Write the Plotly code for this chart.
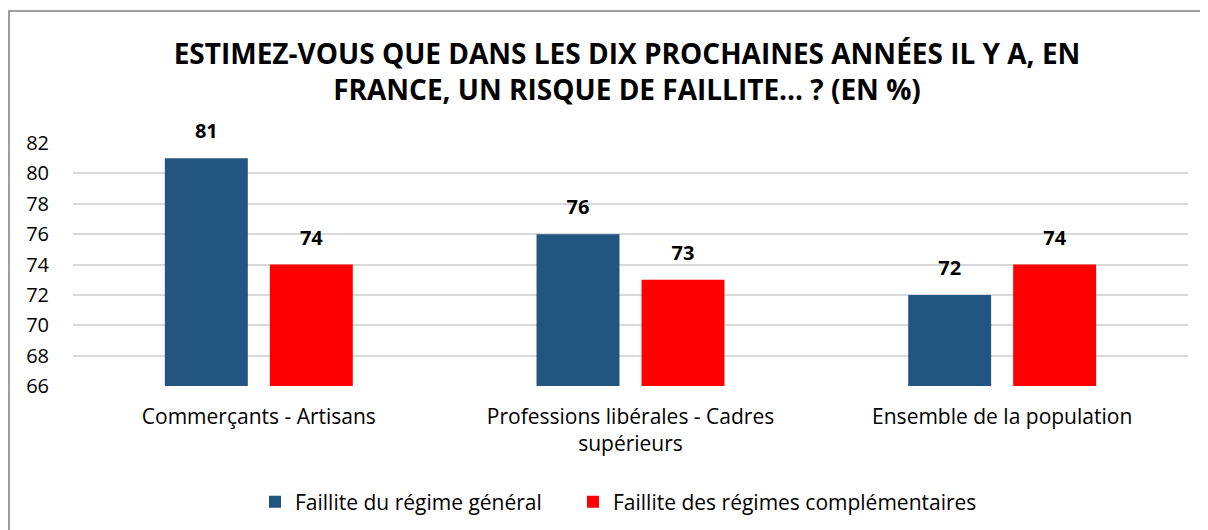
import plotly.graph_objects as go

categories = ["Commerçants - Artisans", "Professions libérales - Cadres<br>supérieurs", "Ensemble de la population"]
series_names = ["Faillite du régime général", "Faillite des régimes complémentaires"]
general = [81, 76, 72]
complementaires = [74, 73, 74]
y_ticks = [66, 68, 70, 72, 74, 76, 78, 80, 82]
title_text = "ESTIMEZ-VOUS QUE DANS LES DIX PROCHAINES ANNÉES IL Y A, EN<br>FRANCE, UN RISQUE DE FAILLITE... ? (EN %)"

BASE = 66
colors = ["#225580", "#FF0000"]
FONT = "Open Sans"
BARGAP = 0.435

# page body has an 8px margin: positions below are window coords minus 8
L, R, T, B = 65, 28, 135, 152
PW = 1208 - L - R
PH = 530 - T - B

fig = go.Figure()
legends = ["legend", "legend2"]
for i, (name, vals, col) in enumerate(zip(series_names, [general, complementaires], colors)):
    fig.add_trace(go.Bar(
        x=categories, y=[v - BASE for v in vals], base=BASE, name=name,
        marker=dict(color=col, line=dict(width=0)), offsetgroup=str(i),
        legend=legends[i], hoverinfo="x+name",
    ))
for i, vals in enumerate([general, complementaires]):
    fig.add_trace(go.Scatter(
        x=categories, y=vals, mode="markers+text",
        text=[f"<b>{v}</b>" for v in vals], textposition="top center",
        textfont=dict(family=FONT, size=20, color="#000000"),
        marker=dict(size=22, opacity=0), offsetgroup=str(i),
        showlegend=False, hoverinfo="skip", cliponaxis=False,
    ))

fig.update_layout(
    width=1208, height=530,
    margin=dict(l=L, r=R, t=T, b=B),
    paper_bgcolor="white", plot_bgcolor="white",
    barmode="group", bargap=BARGAP, bargroupgap=0.21,
    scattermode="group", scattergap=BARGAP,
    font=dict(family=FONT, size=21, color="#000000"),
    title=dict(text=f"<b>{title_text}</b>", x=(627 - 8) / 1208, xanchor="center",
               y=1 - 56 / 530, yanchor="middle",
               font=dict(family=FONT, size=28, color="#000000")),
    xaxis=dict(showgrid=False, showline=False, ticks="", tickfont=dict(size=21), ticklabelstandoff=16),
    yaxis=dict(range=[66, 82], tickvals=y_ticks, showgrid=True, gridcolor="#D9D9D9", gridwidth=1.5,
               zeroline=False, showline=False, ticks="", tickfont=dict(size=20), ticklabelstandoff=23),
    legend=dict(orientation="h", x=(247 - L) / PW, xanchor="left", y=(378 - 494) / PH, yanchor="middle",
                font=dict(size=21), itemwidth=30),
    legend2=dict(orientation="h", x=(565 - L) / PW, xanchor="left", y=(378 - 494) / PH, yanchor="middle",
                 font=dict(size=21), itemwidth=30),
    showlegend=True,
    shapes=[dict(type="rect", xref="paper", yref="paper",
                 x0=(1 - L) / PW, x1=(1230 - L) / PW,
                 y0=(378 - 560) / PH, y1=(378 - 3) / PH,
                 line=dict(color="#7F7F7F", width=1.5), fillcolor="rgba(0,0,0,0)", layer="below")],
)

fig.write_html("out.html")
